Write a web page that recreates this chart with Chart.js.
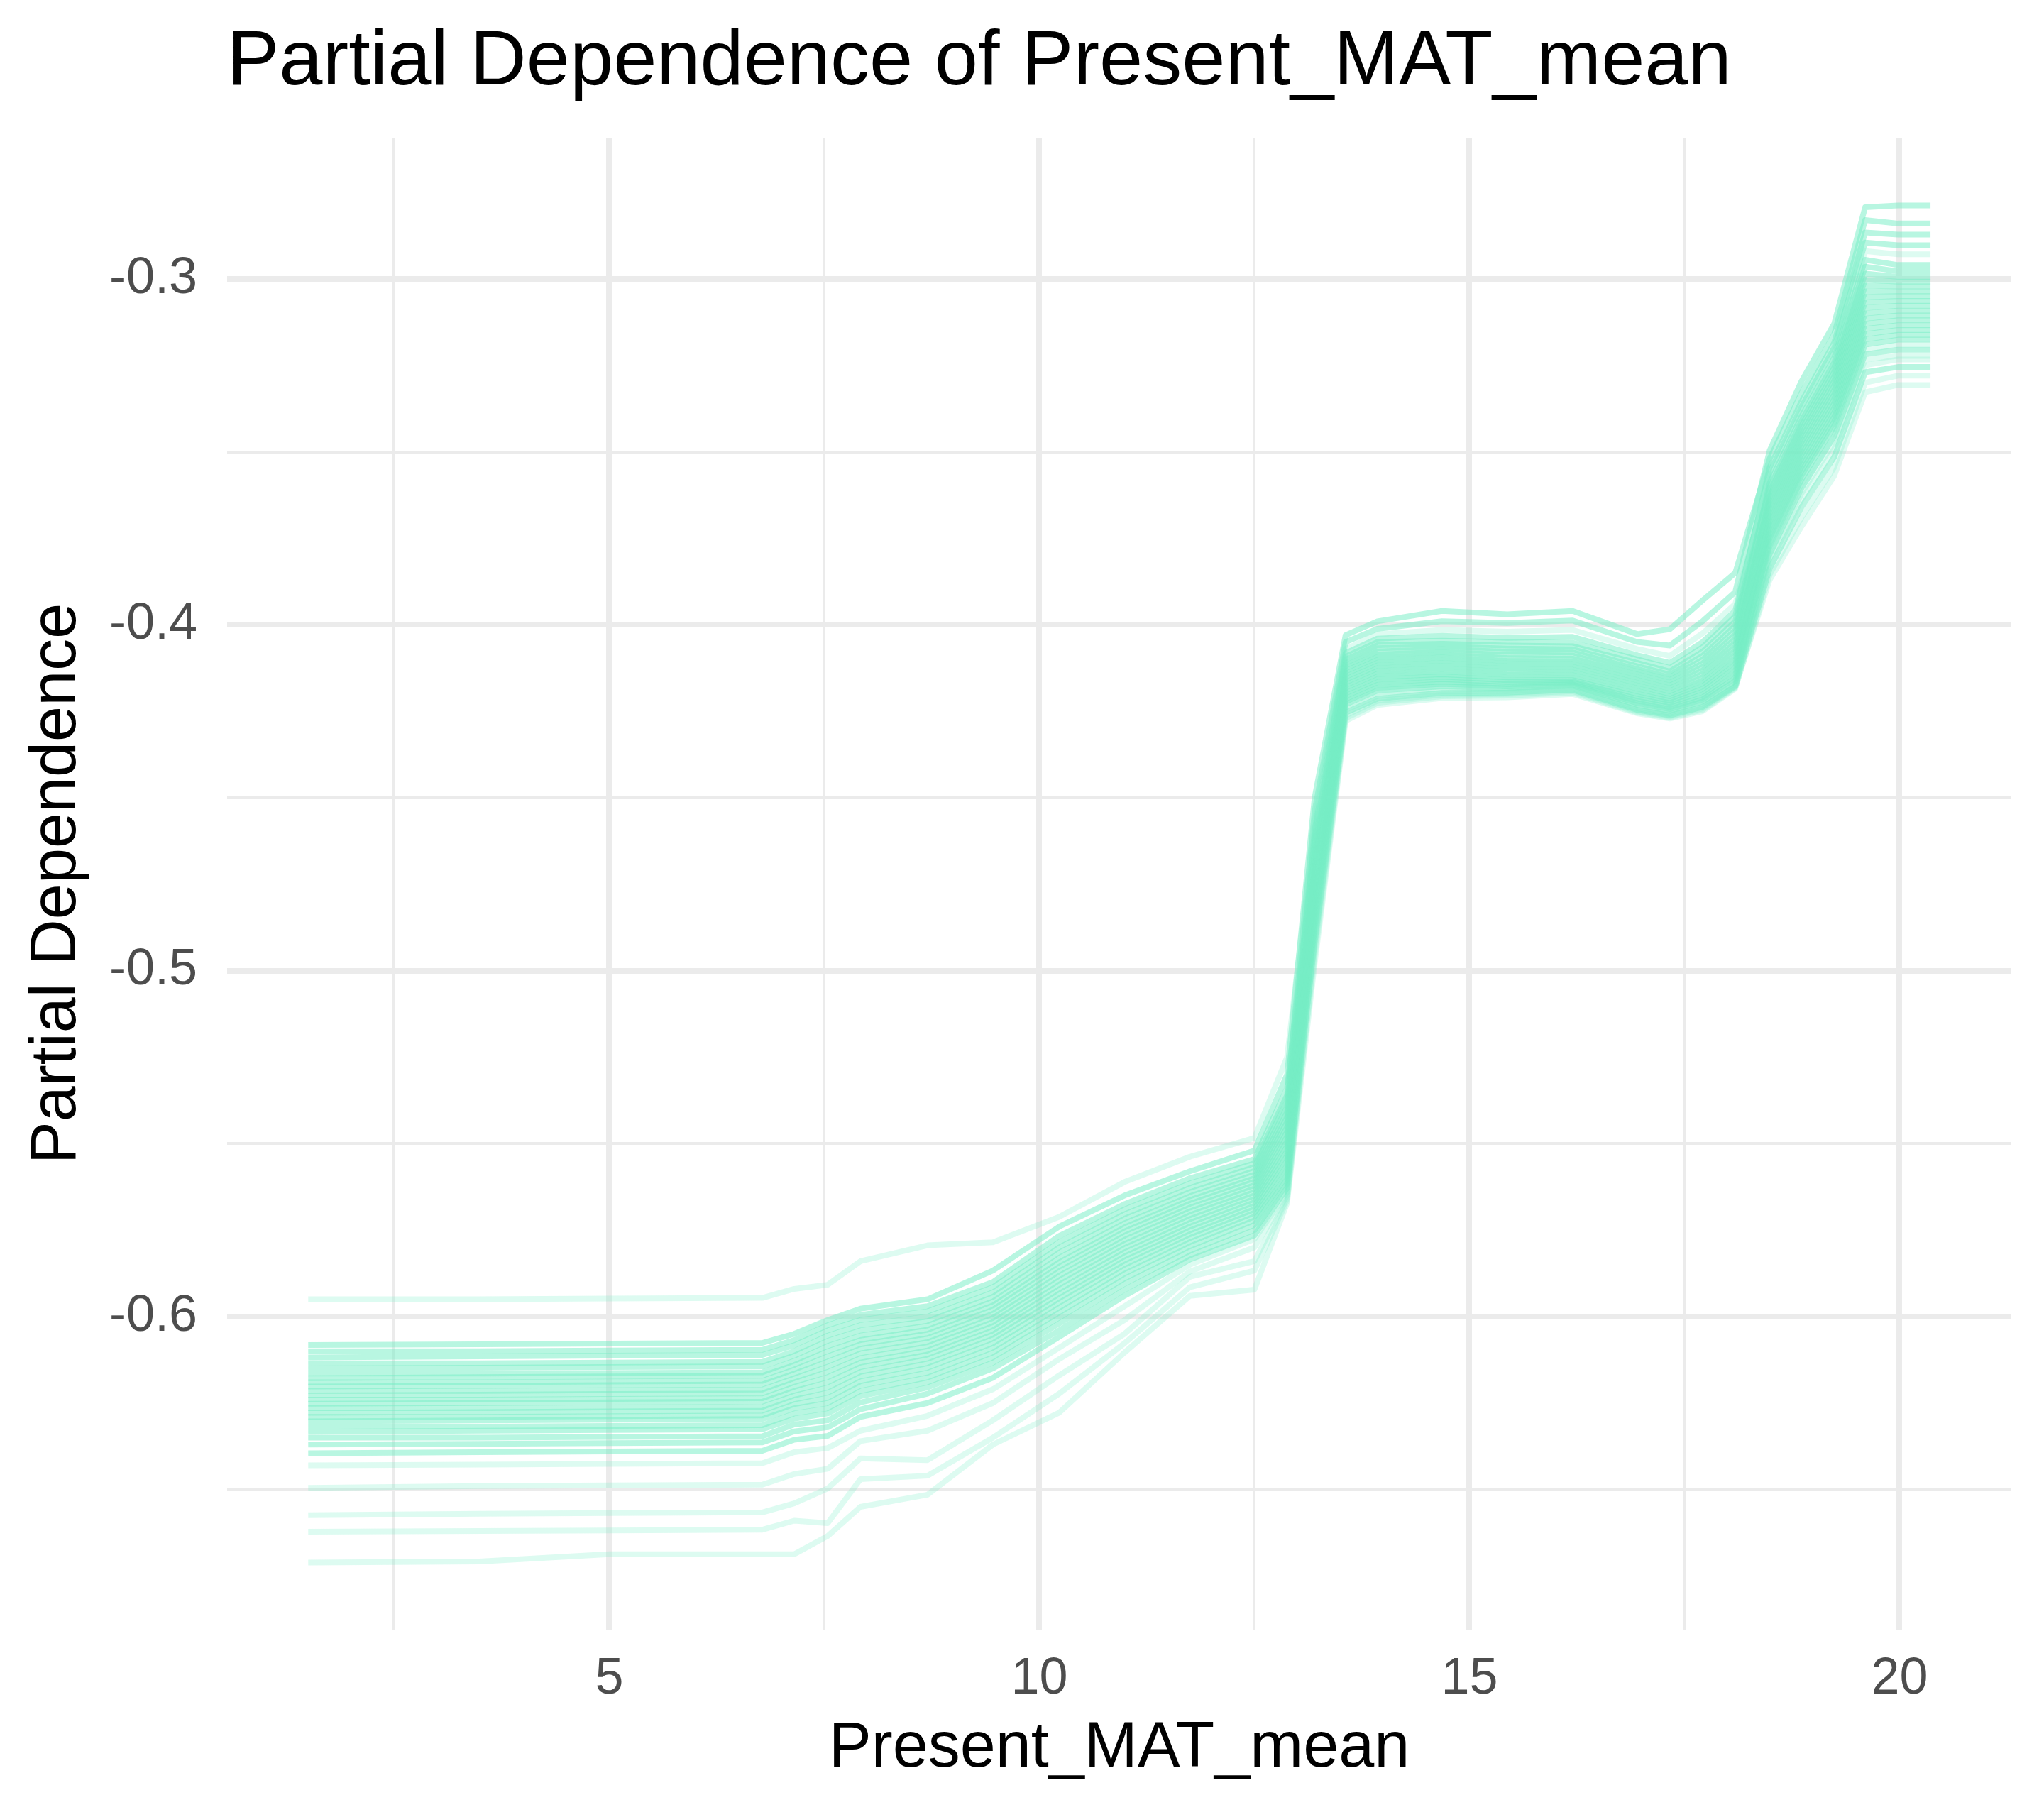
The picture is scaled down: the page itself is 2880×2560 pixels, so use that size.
<!DOCTYPE html>
<html>
<head>
<meta charset="utf-8">
<title>Partial Dependence of Present_MAT_mean</title>
<script src="https://cdn.jsdelivr.net/npm/chart.js@4.4.1/dist/chart.umd.min.js"></script>
<style>
  html, body { margin: 0; padding: 0; background: #ffffff; }
  #wrap { width: 2880px; height: 2560px; }
</style>
</head>
<body>
<div id="wrap"><canvas id="pdpChart" width="2880" height="2560"></canvas></div>
<script>
// Values
const chartTitle = 'Partial Dependence of Present_MAT_mean';
const xLabel = 'Present_MAT_mean';
const yLabel = 'Partial Dependence';

// grid of Present_MAT_mean values where the curves are evaluated
const xGrid = [1.50, 3.49, 5.00, 6.78, 7.15, 7.54, 7.92, 8.70, 9.46, 10.23, 10.99, 11.75, 12.50, 12.88, 13.20,
               13.56, 13.93, 14.68, 15.44, 16.20, 16.95, 17.33, 17.71, 18.09, 18.49, 18.86, 19.24, 19.60, 19.98, 20.36];

const xTicks = [2.5, 5, 7.5, 10, 12.5, 15, 17.5, 20];
const yTicks = [-0.65, -0.6, -0.55, -0.5, -0.45, -0.4, -0.35, -0.3];

// one array per ICE curve (same order as xGrid)
const ice01 = [-0.5950, -0.5950, -0.5948, -0.5946, -0.5920, -0.5908, -0.5840, -0.5794, -0.5785, -0.5712, -0.5611, -0.5538, -0.5484, -0.5250, -0.4570, -0.4070, -0.4028, -0.4015, -0.4020, -0.4015, -0.4070, -0.4090, -0.4025, -0.3940, -0.3575, -0.3385, -0.3215, -0.2920, -0.2929, -0.2929];
const ice02 = [-0.6082, -0.6080, -0.6078, -0.6076, -0.6050, -0.6010, -0.5977, -0.5950, -0.5867, -0.5740, -0.5650, -0.5580, -0.5520, -0.5300, -0.4500, -0.4030, -0.3990, -0.3960, -0.3970, -0.3960, -0.4027, -0.4013, -0.3930, -0.3850, -0.3520, -0.3330, -0.3160, -0.2830, -0.2840, -0.2840];
const ice03 = [-0.6100, -0.6100, -0.6098, -0.6096, -0.6068, -0.6025, -0.5995, -0.5970, -0.5900, -0.5767, -0.5675, -0.5600, -0.5545, -0.5340, -0.4635, -0.4101, -0.4059, -0.4055, -0.4060, -0.4062, -0.4110, -0.4135, -0.4078, -0.3990, -0.3603, -0.3411, -0.3243, -0.2965, -0.2978, -0.2978];
const ice04 = [-0.6118, -0.6115, -0.6113, -0.6111, -0.6083, -0.6040, -0.6010, -0.5985, -0.5915, -0.5785, -0.5690, -0.5615, -0.5557, -0.5360, -0.4540, -0.4050, -0.4012, -0.3990, -0.3995, -0.3988, -0.4050, -0.4060, -0.3990, -0.3905, -0.3496, -0.3296, -0.3130, -0.2793, -0.2788, -0.2788];
const ice05 = [-0.6135, -0.6135, -0.6133, -0.6131, -0.6100, -0.6055, -0.6025, -0.6000, -0.5930, -0.5800, -0.5704, -0.5628, -0.5568, -0.5378, -0.4668, -0.4118, -0.4077, -0.4071, -0.4078, -0.4080, -0.4128, -0.4152, -0.4101, -0.4016, -0.3640, -0.3448, -0.3283, -0.3020, -0.3022, -0.3022];
const ice06 = [-0.6150, -0.6148, -0.6146, -0.6144, -0.6113, -0.6070, -0.6040, -0.6013, -0.5943, -0.5815, -0.5717, -0.5640, -0.5579, -0.5395, -0.4595, -0.4082, -0.4040, -0.4032, -0.4038, -0.4035, -0.4088, -0.4110, -0.4050, -0.3960, -0.3560, -0.3370, -0.3200, -0.2895, -0.2903, -0.2903];
const ice07 = [-0.6165, -0.6165, -0.6163, -0.6161, -0.6128, -0.6085, -0.6055, -0.6026, -0.5956, -0.5830, -0.5730, -0.5652, -0.5590, -0.5410, -0.4715, -0.4142, -0.4102, -0.4095, -0.4104, -0.4106, -0.4152, -0.4176, -0.4132, -0.4052, -0.3676, -0.3484, -0.3322, -0.3068, -0.3064, -0.3064];
const ice08 = [-0.6178, -0.6175, -0.6173, -0.6171, -0.6140, -0.6100, -0.6068, -0.6038, -0.5968, -0.5843, -0.5742, -0.5663, -0.5600, -0.5424, -0.4615, -0.4092, -0.4050, -0.4046, -0.4050, -0.4052, -0.4100, -0.4125, -0.4065, -0.3975, -0.3545, -0.3355, -0.3185, -0.2866, -0.2872, -0.2872];
const ice09 = [-0.6190, -0.6190, -0.6188, -0.6186, -0.6153, -0.6115, -0.6080, -0.6050, -0.5980, -0.5856, -0.5754, -0.5674, -0.5610, -0.5438, -0.4745, -0.4158, -0.4118, -0.4111, -0.4120, -0.4122, -0.4168, -0.4192, -0.4152, -0.4074, -0.3700, -0.3508, -0.3348, -0.3100, -0.3092, -0.3092];
const ice10 = [-0.6202, -0.6200, -0.6198, -0.6196, -0.6165, -0.6130, -0.6093, -0.6062, -0.5992, -0.5869, -0.5766, -0.5685, -0.5620, -0.5452, -0.4652, -0.4110, -0.4068, -0.4063, -0.4069, -0.4071, -0.4120, -0.4144, -0.4090, -0.4003, -0.3616, -0.3424, -0.3257, -0.2985, -0.2994, -0.2994];
const ice11 = [-0.6215, -0.6215, -0.6213, -0.6211, -0.6178, -0.6145, -0.6106, -0.6074, -0.6004, -0.5882, -0.5778, -0.5696, -0.5630, -0.5466, -0.4684, -0.4126, -0.4086, -0.4079, -0.4087, -0.4089, -0.4136, -0.4160, -0.4112, -0.4028, -0.3590, -0.3398, -0.3229, -0.2945, -0.2960, -0.2960];
const ice12 = [-0.6228, -0.6226, -0.6224, -0.6222, -0.6190, -0.6160, -0.6120, -0.6086, -0.6016, -0.5895, -0.5790, -0.5707, -0.5640, -0.5480, -0.4788, -0.4182, -0.4142, -0.4135, -0.4144, -0.4146, -0.4192, -0.4214, -0.4178, -0.4106, -0.3736, -0.3544, -0.3387, -0.3145, -0.3134, -0.3134];
const ice13 = [-0.6240, -0.6240, -0.6238, -0.6236, -0.6203, -0.6175, -0.6133, -0.6098, -0.6028, -0.5908, -0.5802, -0.5718, -0.5650, -0.5494, -0.4700, -0.4134, -0.4094, -0.4087, -0.4096, -0.4098, -0.4144, -0.4168, -0.4122, -0.4040, -0.3652, -0.3460, -0.3296, -0.3036, -0.3036, -0.3036];
const ice14 = [-0.6252, -0.6250, -0.6248, -0.6246, -0.6215, -0.6190, -0.6146, -0.6110, -0.6040, -0.5921, -0.5814, -0.5729, -0.5660, -0.5508, -0.4730, -0.4150, -0.4110, -0.4103, -0.4112, -0.4114, -0.4160, -0.4184, -0.4142, -0.4063, -0.3628, -0.3436, -0.3270, -0.3003, -0.3008, -0.3008];
const ice15 = [-0.6265, -0.6265, -0.6263, -0.6261, -0.6228, -0.6205, -0.6160, -0.6122, -0.6052, -0.5934, -0.5826, -0.5740, -0.5670, -0.5522, -0.4830, -0.4206, -0.4166, -0.4157, -0.4166, -0.4164, -0.4214, -0.4232, -0.4202, -0.4136, -0.3772, -0.3580, -0.3426, -0.3190, -0.3176, -0.3176];
const ice16 = [-0.6278, -0.6276, -0.6274, -0.6272, -0.6240, -0.6220, -0.6173, -0.6135, -0.6064, -0.5947, -0.5838, -0.5751, -0.5680, -0.5536, -0.4760, -0.4166, -0.4126, -0.4119, -0.4128, -0.4130, -0.4176, -0.4200, -0.4161, -0.4085, -0.3664, -0.3472, -0.3309, -0.3052, -0.3050, -0.3050];
const ice17 = [-0.6290, -0.6290, -0.6288, -0.6286, -0.6253, -0.6235, -0.6187, -0.6148, -0.6077, -0.5960, -0.5850, -0.5762, -0.5690, -0.5550, -0.4774, -0.4174, -0.4134, -0.4127, -0.4136, -0.4138, -0.4184, -0.4207, -0.4170, -0.4096, -0.3724, -0.3532, -0.3374, -0.3130, -0.3120, -0.3120];
const ice18 = [-0.6303, -0.6300, -0.6298, -0.6296, -0.6265, -0.6250, -0.6200, -0.6162, -0.6090, -0.5974, -0.5863, -0.5773, -0.5700, -0.5564, -0.4875, -0.4230, -0.4190, -0.4178, -0.4183, -0.4176, -0.4232, -0.4249, -0.4222, -0.4163, -0.3796, -0.3605, -0.3455, -0.3218, -0.3205, -0.3205];
const ice19 = [-0.6318, -0.6318, -0.6316, -0.6314, -0.6280, -0.6265, -0.6215, -0.6176, -0.6104, -0.5988, -0.5876, -0.5785, -0.5711, -0.5578, -0.4802, -0.4190, -0.4150, -0.4143, -0.4152, -0.4154, -0.4200, -0.4220, -0.4186, -0.4116, -0.3688, -0.3496, -0.3335, -0.3084, -0.3078, -0.3078];
const ice20 = [-0.6333, -0.6330, -0.6328, -0.6326, -0.6295, -0.6280, -0.6230, -0.6190, -0.6118, -0.6003, -0.5890, -0.5797, -0.5722, -0.5592, -0.4816, -0.4198, -0.4158, -0.4150, -0.4160, -0.4160, -0.4207, -0.4226, -0.4194, -0.4126, -0.3712, -0.3520, -0.3361, -0.3115, -0.3106, -0.3106];
const ice21 = [-0.6350, -0.6350, -0.6348, -0.6346, -0.6312, -0.6300, -0.6248, -0.6205, -0.6133, -0.6020, -0.5905, -0.5810, -0.5735, -0.5604, -0.4920, -0.4254, -0.4214, -0.4197, -0.4196, -0.4188, -0.4246, -0.4262, -0.4238, -0.4178, -0.3838, -0.3660, -0.3515, -0.3270, -0.3255, -0.3255];
const ice22 = [-0.6370, -0.6368, -0.6366, -0.6364, -0.6332, -0.6320, -0.6268, -0.6223, -0.6150, -0.6040, -0.5922, -0.5823, -0.5750, -0.5616, -0.4845, -0.4214, -0.4174, -0.4164, -0.4172, -0.4168, -0.4220, -0.4238, -0.4210, -0.4146, -0.3748, -0.3556, -0.3400, -0.3160, -0.3148, -0.3148];
const ice23 = [-0.6395, -0.6392, -0.6390, -0.6388, -0.6356, -0.6345, -0.6290, -0.6250, -0.6177, -0.6059, -0.5940, -0.5835, -0.5765, -0.5628, -0.4860, -0.4222, -0.4182, -0.4171, -0.4178, -0.4172, -0.4226, -0.4244, -0.4216, -0.4155, -0.3760, -0.3568, -0.3413, -0.3175, -0.3162, -0.3162];
const ice24 = [-0.6430, -0.6428, -0.6426, -0.6424, -0.6392, -0.6380, -0.6330, -0.6287, -0.6210, -0.6090, -0.5970, -0.5850, -0.5776, -0.5640, -0.4960, -0.4270, -0.4226, -0.4207, -0.4205, -0.4196, -0.4253, -0.4268, -0.4246, -0.4182, -0.3870, -0.3716, -0.3570, -0.3328, -0.3307, -0.3307];
const ice25 = [-0.6495, -0.6490, -0.6488, -0.6486, -0.6455, -0.6440, -0.6360, -0.6330, -0.6250, -0.6123, -0.6010, -0.5870, -0.5800, -0.5650, -0.4890, -0.4238, -0.4198, -0.4185, -0.4188, -0.4180, -0.4237, -0.4254, -0.4228, -0.4170, -0.3784, -0.3592, -0.3440, -0.3205, -0.3190, -0.3190];
const ice26 = [-0.6574, -0.6570, -0.6568, -0.6566, -0.6540, -0.6497, -0.6410, -0.6415, -0.6300, -0.6170, -0.6050, -0.5885, -0.5840, -0.5658, -0.4905, -0.4246, -0.4206, -0.4191, -0.4192, -0.4184, -0.4242, -0.4258, -0.4233, -0.4175, -0.3808, -0.3620, -0.3472, -0.3233, -0.3223, -0.3223];
const ice27 = [-0.6622, -0.6620, -0.6618, -0.6616, -0.6590, -0.6597, -0.6470, -0.6460, -0.6350, -0.6223, -0.6077, -0.5915, -0.5867, -0.5665, -0.4940, -0.4262, -0.4220, -0.4202, -0.4200, -0.4192, -0.4250, -0.4265, -0.4242, -0.4180, -0.3822, -0.3638, -0.3492, -0.3250, -0.3233, -0.3233];
const ice28 = [-0.6711, -0.6708, -0.6687, -0.6687, -0.6687, -0.6634, -0.6550, -0.6515, -0.6370, -0.6278, -0.6104, -0.5940, -0.5922, -0.5672, -0.4980, -0.4278, -0.4232, -0.4212, -0.4210, -0.4200, -0.4256, -0.4271, -0.4250, -0.4185, -0.3855, -0.3690, -0.3545, -0.3300, -0.3280, -0.3280];

const iceCurves = [ice01, ice02, ice03, ice04, ice05, ice06, ice07, ice08, ice09, ice10, ice11, ice12, ice13, ice14,
                   ice15, ice16, ice17, ice18, ice19, ice20, ice21, ice22, ice23, ice24, ice25, ice26, ice27, ice28];

// curves that sit apart from the main band are drawn fainter
const outlierCurves = [ice01, ice24, ice25, ice26, ice27, ice28];

Chart.defaults.font.family = "'Liberation Sans', Arial, sans-serif";

const isMajor = (v, step) => Math.abs(v / step - Math.round(v / step)) < 1e-6;

const datasets = iceCurves.map((curve, i) => ({
    label: 'curve ' + (i + 1),
    data: xGrid.map((x, j) => ({ x: x, y: curve[j] })),
    borderColor: outlierCurves.includes(curve) ? 'rgba(118, 238, 198, 0.25)' : 'rgba(118, 238, 198, 0.52)',
    borderWidth: 8,
    borderCapStyle: 'butt',
    borderJoinStyle: 'round',
    pointRadius: 0,
    tension: 0,
    fill: false
}));

const ctx = document.getElementById('pdpChart').getContext('2d');
new Chart(ctx, {
    type: 'line',
    data: { datasets: datasets },
    options: {
        responsive: false,
        devicePixelRatio: 1,
        animation: false,
        events: [],
        layout: { padding: { left: 0, right: 46, top: 0, bottom: 0 } },
        plugins: {
            legend: { display: false },
            tooltip: { enabled: false },
            title: {
                display: true,
                text: chartTitle,
                align: 'start',
                fullSize: false,
                color: '#000000',
                font: { size: 110, weight: 'normal' },
                padding: { top: 23, bottom: 39 }
            }
        },
        scales: {
            x: {
                type: 'linear',
                position: 'bottom',
                min: 0.557,
                max: 21.30,
                afterBuildTicks: (scale) => { scale.ticks = xTicks.map(v => ({ value: v })); },
                afterFit: (scale) => { scale.height = 264; },
                border: { display: false },
                grid: {
                    color: '#EBEBEB',
                    drawTicks: false,
                    lineWidth: (c) => (c.tick && isMajor(c.tick.value, 5) ? 8 : 4)
                },
                ticks: {
                    autoSkip: false,
                    maxRotation: 0,
                    padding: 27,
                    color: '#4D4D4D',
                    font: { size: 72 },
                    callback: (v) => (isMajor(v, 5) ? String(v) : '')
                },
                title: {
                    display: true,
                    text: xLabel,
                    color: '#000000',
                    font: { size: 90 },
                    padding: { top: 0, bottom: 42 }
                }
            },
            y: {
                type: 'linear',
                min: -0.6905,
                max: -0.2592,
                afterBuildTicks: (scale) => { scale.ticks = yTicks.map(v => ({ value: v })); },
                afterFit: (scale) => { scale.width = 320; },
                border: { display: false },
                grid: {
                    color: '#EBEBEB',
                    drawTicks: false,
                    lineWidth: (c) => (c.tick && isMajor(c.tick.value, 0.1) ? 8 : 4)
                },
                ticks: {
                    autoSkip: false,
                    padding: 42,
                    color: '#4D4D4D',
                    font: { size: 72 },
                    callback: (v) => (isMajor(v, 0.1) ? v.toFixed(1) : '')
                },
                title: {
                    display: true,
                    text: yLabel,
                    color: '#000000',
                    font: { size: 90 },
                    padding: { top: 27, bottom: 0 }
                }
            }
        }
    }
});
</script>
</body>
</html>
